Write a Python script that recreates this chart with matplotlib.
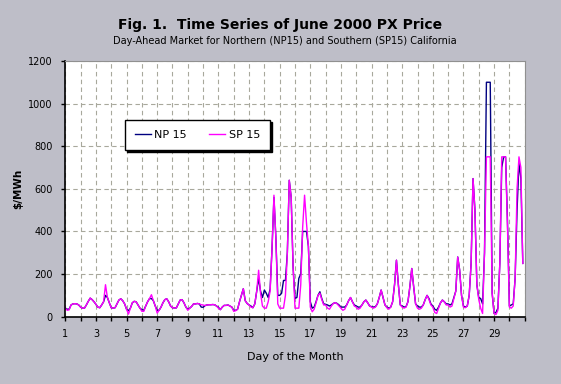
import numpy as np
import matplotlib.pyplot as plt

# hours sampled in each day (every 3 h) and the days of June 2000
hours = [0, 3, 6, 9, 12, 15, 18, 21]
days = list(range(1, 31))

# SP 15 price, $/MWh, one row per day
sp15 = [
    [40, 30, 32, 55, 60, 61, 60, 55],
    [45, 40, 40, 55, 72, 87, 80, 70],
    [58, 45, 42, 55, 70, 150, 90, 65],
    [42, 40, 42, 60, 78, 84, 75, 60],
    [35, 12, 40, 65, 72, 70, 55, 40],
    [25, 25, 50, 70, 85, 103, 75, 50],
    [17, 30, 45, 65, 80, 84, 70, 50],
    [42, 41, 41, 60, 78, 80, 65, 45],
    [30, 40, 48, 60, 60, 62, 60, 56],
    [55, 52, 55, 56, 56, 57, 56, 50],
    [40, 33, 45, 53, 53, 55, 50, 45],
    [25, 28, 35, 70, 100, 131, 75, 62],
    [55, 45, 42, 60, 120, 218, 110, 50],
    [40, 40, 70, 120, 320, 570, 370, 60],
    [40, 40, 40, 100, 300, 640, 560, 234],
    [40, 40, 40, 150, 420, 570, 440, 330],
    [45, 23, 35, 65, 100, 110, 80, 55],
    [55, 40, 35, 50, 62, 66, 60, 50],
    [40, 30, 35, 55, 75, 90, 70, 50],
    [45, 35, 40, 55, 70, 78, 65, 50],
    [45, 40, 45, 60, 90, 125, 90, 55],
    [42, 35, 45, 70, 150, 265, 150, 55],
    [45, 40, 45, 70, 140, 226, 140, 60],
    [40, 35, 40, 55, 80, 100, 80, 55],
    [45, 20, 15, 40, 65, 78, 70, 55],
    [55, 45, 50, 85, 120, 280, 220, 100],
    [45, 42, 50, 100, 250, 648, 500, 150],
    [80, 40, 15, 300, 750, 750, 750, 110],
    [15, 10, 30, 250, 750, 750, 750, 420],
    [45, 40, 50, 180, 600, 750, 700, 250],
]

# NP 15 price, $/MWh
np15 = [
    [40, 35, 35, 55, 60, 61, 60, 55],
    [45, 40, 40, 55, 72, 87, 80, 70],
    [58, 45, 42, 55, 70, 100, 90, 65],
    [42, 40, 42, 60, 78, 84, 75, 60],
    [35, 28, 40, 65, 72, 70, 55, 40],
    [33, 30, 50, 70, 85, 85, 75, 50],
    [30, 30, 45, 65, 80, 84, 70, 50],
    [42, 41, 41, 60, 78, 80, 65, 45],
    [35, 40, 48, 60, 60, 62, 60, 45],
    [44, 52, 55, 56, 56, 57, 56, 50],
    [44, 33, 45, 53, 53, 55, 50, 45],
    [30, 30, 35, 70, 100, 131, 75, 62],
    [55, 50, 42, 60, 120, 180, 120, 90],
    [125, 110, 90, 130, 320, 560, 370, 100],
    [100, 110, 170, 170, 300, 640, 560, 234],
    [86, 90, 180, 200, 400, 400, 400, 330],
    [70, 40, 45, 70, 100, 117, 85, 60],
    [58, 55, 50, 55, 62, 66, 62, 55],
    [45, 45, 45, 55, 75, 90, 70, 55],
    [50, 45, 45, 55, 70, 78, 65, 50],
    [47, 45, 47, 60, 90, 125, 90, 55],
    [45, 40, 45, 70, 150, 265, 150, 55],
    [50, 45, 47, 70, 140, 226, 140, 60],
    [50, 45, 45, 55, 80, 100, 85, 60],
    [50, 35, 30, 45, 65, 78, 70, 60],
    [60, 55, 60, 90, 120, 280, 220, 100],
    [50, 45, 50, 100, 250, 648, 500, 150],
    [90, 85, 60, 300, 1100, 1100, 1100, 110],
    [15, 20, 40, 250, 700, 750, 750, 450],
    [50, 55, 60, 180, 500, 720, 650, 250],
]

yticks = [0, 200, 400, 600, 800, 1000, 1200]

bg = '#bebec8'
x = (np.array(days)[:, None] + np.array(hours)[None, :] / 24.0).ravel()
sp = np.array(sp15).ravel()
npv = np.array(np15).ravel()

fig = plt.figure(figsize=(5.61, 3.84), dpi=100, facecolor=bg)
ax = fig.add_axes([0.1164, 0.1753, 0.8189, 0.6660])
ax.set_facecolor('white')

ax.plot(x, npv, color='#000080', lw=1.0, label='NP 15')
ax.plot(x, sp, color='#ff00ff', lw=1.0, label='SP 15')

ax.set_xlim(1, 31)
ax.set_ylim(0, 1200)
ax.set_xticks(range(1, 32))
ax.set_xticklabels([str(d) if d % 2 == 1 and d < 31 else '' for d in range(1, 32)])
ax.set_yticks(yticks)
ax.set_yticklabels([str(v) for v in yticks])
ax.tick_params(axis='both', labelsize=7, length=3, width=1, color='black', direction='out')
ax.tick_params(axis='x', pad=6)
ax.tick_params(axis='y', pad=6)

ax.grid(True, color='#a8a89c', linestyle=(0, (4, 3)), linewidth=0.8)
ax.set_axisbelow(True)
for s in ['left', 'bottom']:
    ax.spines[s].set_color('black')
    ax.spines[s].set_linewidth(1.2)
for s in ['top', 'right']:
    ax.spines[s].set_color('#909090')
    ax.spines[s].set_linewidth(0.8)

leg = ax.legend(loc='upper left', bbox_to_anchor=(0.13, 0.769), ncol=2, fontsize=8,
                frameon=True, fancybox=False, framealpha=1, edgecolor='black',
                handlelength=1.4, handletextpad=0.35, columnspacing=2.0,
                borderpad=0.9, borderaxespad=0,
                shadow={'color': 'black', 'alpha': 1, 'ox': 1.5, 'oy': -1.5})
leg.get_frame().set_linewidth(1.0)

fig.text(0.5, 1 - 24.5 / 384, 'Fig. 1.  Time Series of June 2000 PX Price',
         ha='center', va='center', fontsize=10, fontweight='bold')
fig.text(0.508, 1 - 41 / 384, 'Day-Ahead Market for Northern (NP15) and Southern (SP15) California',
         ha='center', va='center', fontsize=7)
fig.text(18 / 561, 1 - 189 / 384, '$/MWh', rotation=90, ha='center', va='center',
         fontsize=7.5, fontweight='bold')
fig.text(295 / 561, 1 - 357 / 384, 'Day of the Month', ha='center', va='center', fontsize=8)

fig.savefig('out.png', dpi=100, facecolor=bg)
